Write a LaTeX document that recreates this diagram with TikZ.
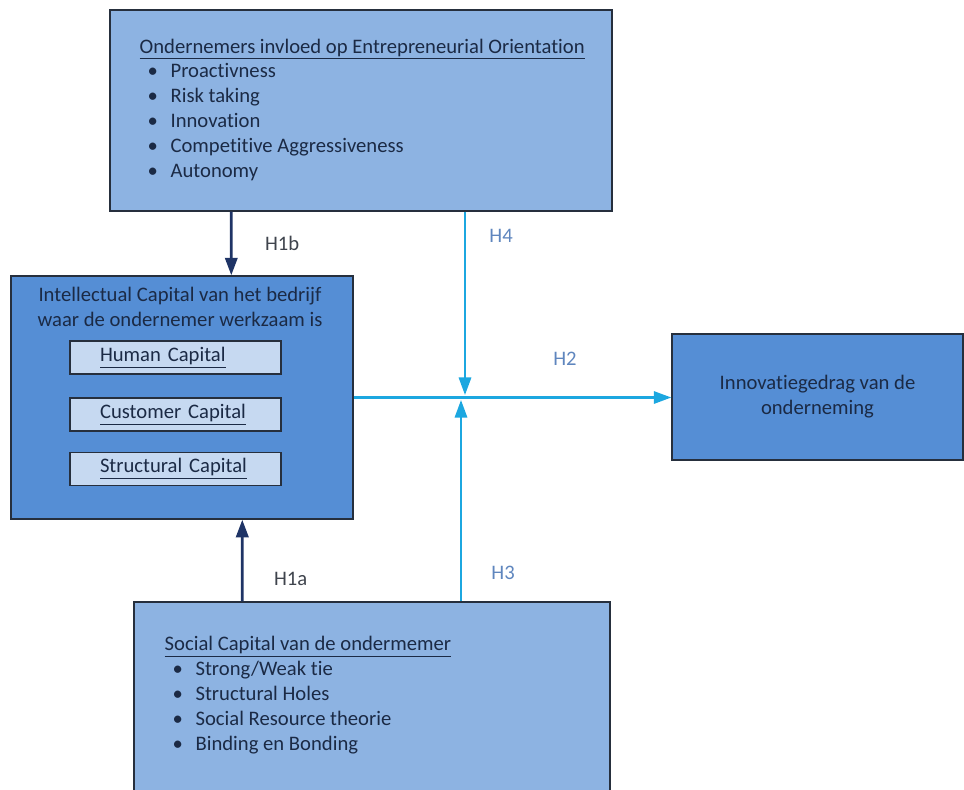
\documentclass[tikz,border=0pt]{standalone}
\usepackage{fontspec}
\setmainfont{Carlito}[Ligatures=NoCommon]
\usetikzlibrary{arrows.meta, positioning}

\definecolor{boxlight}{HTML}{8DB3E2}
\definecolor{boxmid}{HTML}{558ED5}
\definecolor{boxinner}{HTML}{C6D9F1}
\definecolor{boxline}{HTML}{262F3D}
\definecolor{txtnavy}{HTML}{1B2A45}
\definecolor{arrnavy}{HTML}{1F3466}
\definecolor{arrcyan}{HTML}{1CA7E0}
\definecolor{lblgray}{HTML}{3F444D}
\definecolor{lblblue}{HTML}{5F86BE}

\newcommand{\bulletline}[1]{\hspace*{4.5pt}\makebox[13.1pt][l]{\textbullet}#1}

\begin{document}
\begin{tikzpicture}[x=0.02cm, y=-0.02cm, >={Triangle[length=10pt,width=7pt]},
    every node/.style={font=\fontsize{11.75}{14.2}\selectfont, text=txtnavy},
    bigbox/.style={draw=boxline, line width=0.8pt, inner sep=0pt},
    capbox/.style={draw=boxline, line width=0.8pt, fill=boxinner, minimum width=4.22cm, minimum height=0.66cm, inner xsep=0.6cm, inner ysep=0pt, text width=3.02cm, align=left},
    listtext/.style={align=left, inner sep=0pt, anchor=north west},
    navyarrow/.style={->, draw=arrnavy, line width=1.6pt},
    cyanarrow/.style={->, draw=arrcyan, line width=1.3pt},
    hdark/.style={text=lblgray},
    hblue/.style={text=lblblue}]

    \useasboundingbox (0,0) rectangle (964,789);
    \clip (0,0) rectangle (964,789);

    % Boxes
    \node[bigbox, fill=boxlight, minimum width=10.04cm, minimum height=4.02cm] (eo) at (361,110.5) {};
    \node[bigbox, fill=boxmid, minimum width=6.84cm, minimum height=4.86cm] (ic) at (182,397.5) {};
    \node[bigbox, fill=boxmid, minimum width=5.82cm, minimum height=2.52cm, align=center] (innov) at (817.5,397) {Innovatiegedrag van de\\onderneming};
    \node[bigbox, fill=boxlight, minimum width=9.52cm, minimum height=3.96cm] (sc) at (372,701) {};

    % Entrepreneurial Orientation list
    \node[listtext] (eotext) at ([shift={(30,29)}]eo.north west) {\underline{Ondernemers invloed op Entrepreneurial Orientation}\\
        \bulletline{Proactivness}\\
        \bulletline{Risk taking}\\
        \bulletline{Innovation}\\
        \bulletline{Competitive Aggressiveness}\\
        \bulletline{Autonomy}};

    % Intellectual Capital
    \node[align=center, inner sep=0pt, anchor=north] (ictitle) at (180,286.5) {Intellectual Capital van het bedrijf\\waar de ondernemer werkzaam is};
    \node[capbox] (human) at (175.5,357.5) {\underline{Human Capital}};
    \node[capbox] (customer) at (175.5,414.5) {\underline{Customer Capital}};
    \node[capbox] (structural) at (175.5,469) {\underline{Structural Capital}};

    % Social Capital list
    \node[listtext] (sctext) at ([shift={(31,34.5)}]sc.north west) {\underline{Social Capital van de ondermemer}\\
        \bulletline{Strong/Weak tie}\\
        \bulletline{Structural Holes}\\
        \bulletline{Social Resource theorie}\\
        \bulletline{Binding en Bonding}};

    % Hypotheses
    \draw[navyarrow] ([xshift=2.44cm]eo.south west) -- ([xshift=4.42cm]ic.north west) node[midway, right=0.53cm, hdark] {H1b};
    \draw[navyarrow] ([xshift=2.18cm]sc.north west) -- ([xshift=4.64cm]ic.south west) node[pos=0.27, right=0.49cm, hdark] {H1a};
    \draw[cyanarrow] (ic.east) -- (ic.east -| innov.west) node[pos=0.665, above=0.51cm, hblue] {H2};
    \coordinate (hub) at (463,397.5);
    \draw[cyanarrow] ([xshift=0.04cm]hub |- eo.south) -- ([xshift=0.04cm, yshift=0.05cm]hub) node[pos=0.13, right=0.35cm, hblue] {H4};
    \draw[cyanarrow] ([xshift=-0.04cm]hub |- sc.north) -- ([xshift=-0.04cm, yshift=-0.05cm]hub) node[pos=0.14, right=0.47cm, hblue] {H3};
\end{tikzpicture}
\end{document}
